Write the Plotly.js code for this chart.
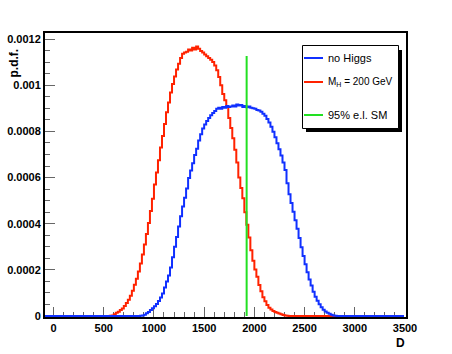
<!DOCTYPE html>
<html>
<head>
<meta charset="utf-8">
<script src="https://cdn.plot.ly/plotly-3.0.1.min.js"></script>
<style>
  body { margin: 0; background: #fff; }
  #pdf { width: 452px; height: 354px; }
</style>
</head>
<body>
<div id="pdf"></div>
<script>
// histogram binning (D)
var binWidth = 20;
var histLow = -100;
var histHigh = 3500;
var pdfScale = 1e-4;

// M_H = 200 GeV, first non-empty bin starts at 560
var redStart = 560;
var redPdf = [
  0.01, 0.03, 0.08, 0.14, 0.19, 0.26, 0.33, 0.44, 0.57, 0.71,
  0.88, 1.10, 1.36, 1.62, 1.93, 2.28, 2.67, 3.10, 3.55, 4.03,
  4.55, 5.08, 5.70, 6.22, 6.75, 7.30, 7.80, 8.32, 8.83, 9.25,
  9.68, 10.05, 10.38, 10.68, 10.93, 11.18, 11.36, 11.42, 11.45, 11.55,
  11.50, 11.62, 11.55, 11.68, 11.58, 11.48, 11.42, 11.33, 11.25, 11.18,
  11.10, 11.00, 10.85, 10.65, 10.35, 10.00, 9.62, 9.35, 9.05, 8.58,
  8.15, 7.70, 7.20, 6.65, 6.00, 5.55, 5.10, 4.50, 3.95, 3.40,
  2.85, 2.40, 2.02, 1.70, 1.35, 1.08, 0.82, 0.64, 0.48, 0.36,
  0.28, 0.22, 0.18, 0.14, 0.11, 0.08, 0.05, 0.03, 0.01
];

// no Higgs, first non-empty bin starts at 860
var blueStart = 860;
var bluePdf = [
  0.01, 0.02, 0.06, 0.12, 0.18, 0.26, 0.34, 0.43, 0.52, 0.65,
  0.80, 0.98, 1.24, 1.50, 1.76, 2.10, 2.55, 3.00, 3.42, 3.88,
  4.32, 4.75, 5.12, 5.52, 5.98, 6.30, 6.62, 6.98, 7.25, 7.60,
  7.88, 8.12, 8.30, 8.45, 8.58, 8.70, 8.80, 8.88, 8.98, 9.02,
  8.98, 9.05, 9.02, 9.10, 9.05, 9.08, 9.12, 9.08, 9.16, 9.12,
  9.14, 9.06, 9.10, 9.04, 9.08, 9.02, 9.00, 8.98, 8.93, 8.90,
  8.85, 8.76, 8.68, 8.53, 8.38, 8.20, 7.98, 7.75, 7.48, 7.22,
  6.95, 6.65, 6.33, 5.75, 5.28, 4.90, 4.52, 4.15, 3.78, 3.38,
  2.98, 2.60, 2.24, 1.90, 1.58, 1.32, 1.05, 0.84, 0.66, 0.51,
  0.38, 0.27, 0.20, 0.14, 0.10, 0.06, 0.03, 0.01
];

// 95% exclusion limit line
var elD = 1923;
var elTop = 0.001126;

var yTickVals = [0, 0.0002, 0.0004, 0.0006, 0.0008, 0.001, 0.0012];
var yTickText = ['0', '0.0002', '0.0004', '0.0006', '0.0008', '0.001', '0.0012'];
var xTickVals = [0, 500, 1000, 1500, 2000, 2500, 3000, 3500];
var xTickText = ['0', '500', '1000', '1500', '2000', '2500', '3000', '3500'];

var legendNames = ['no Higgs', 'M<sub>H</sub> = 200 GeV', '95% e.l. SM'];

// fill the whole histogram range, empty bins are zero
function toHist(start, vals) {
  var xs = [], ys = [];
  for (var lo = histLow; lo < histHigh; lo += binWidth) {
    var i = Math.round((lo - start) / binWidth);
    xs.push(lo + binWidth / 2);
    ys.push(i >= 0 && i < vals.length ? vals[i] * pdfScale : 0);
  }
  return { x: xs, y: ys };
}

var redH = toHist(redStart, redPdf);
var blueH = toHist(blueStart, bluePdf);

var colors = { blue: '#1030ff', red: '#ff2200', green: '#22e022' };

var red = {
  x: redH.x, y: redH.y,
  type: 'scatter', mode: 'lines',
  line: { color: colors.red, width: 2, shape: 'hvh' },
  name: legendNames[1], showlegend: false, hoverinfo: 'skip'
};
var blue = {
  x: blueH.x, y: blueH.y,
  type: 'scatter', mode: 'lines',
  line: { color: colors.blue, width: 2, shape: 'hvh' },
  name: legendNames[0], showlegend: false, hoverinfo: 'skip'
};
var green = {
  x: [elD, elD], y: [0, elTop],
  type: 'scatter', mode: 'lines',
  line: { color: colors.green, width: 2 },
  name: legendNames[2], showlegend: false, hoverinfo: 'skip'
};

// plot frame in pixels: left 45, top 33, right 406, bottom 317
var L = 45, T = 33, W = 361, H = 284;
function px(v) { return (v - L) / W; }
function py(v) { return (T + H - v) / H; }

var fam = 'Liberation Sans, Arial, sans-serif';
var tickFont = { family: fam, size: 11, color: '#000', weight: 'bold' };

var legRows = [58, 82, 115];
var legSizes = [11, 10, 11];
var legColors = [colors.blue, colors.red, colors.green];

var shapes = [
  { type: 'rect', xref: 'paper', yref: 'paper', x0: px(306), x1: px(402), y0: py(132), y1: py(50),
    fillcolor: '#000', line: { width: 0 } },
  { type: 'rect', xref: 'paper', yref: 'paper', x0: px(302.5), x1: px(398.5), y0: py(128.5), y1: py(45.5),
    fillcolor: '#fff', line: { color: '#000', width: 1 } }
];
var annotations = [
  { text: 'p.d.f.', xref: 'paper', yref: 'paper', x: px(4), y: py(47), xanchor: 'left', yanchor: 'top',
    textangle: -90, showarrow: false, font: { family: fam, size: 12, color: '#000', weight: 'bold' } },
  { text: 'D', xref: 'paper', yref: 'paper', x: px(407), y: py(334), xanchor: 'right', yanchor: 'top',
    showarrow: false, font: { family: fam, size: 12, color: '#000', weight: 'bold' } }
];
legRows.forEach(function (yy, i) {
  shapes.push({ type: 'line', xref: 'paper', yref: 'paper', x0: px(304), x1: px(323), y0: py(yy), y1: py(yy),
    line: { color: legColors[i], width: 2 } });
  annotations.push({ text: legendNames[i], xref: 'paper', yref: 'paper', x: px(326), y: py(yy),
    xanchor: 'left', yanchor: 'middle', showarrow: false,
    font: { family: fam, size: legSizes[i], color: '#000' } });
});

var layout = {
  width: 452, height: 354,
  margin: { l: L, r: 452 - L - W, t: T, b: 354 - T - H, pad: 0 },
  paper_bgcolor: '#fff', plot_bgcolor: '#fff',
  showlegend: false,
  xaxis: {
    range: [-85, 3510],
    showgrid: false, zeroline: false,
    showline: true, linecolor: '#000', linewidth: 2, mirror: true,
    ticks: 'inside', ticklen: 10, tickcolor: '#666', tickwidth: 1,
    tickvals: xTickVals, ticktext: xTickText, tickfont: tickFont,
    minor: { dtick: 100, ticks: 'inside', ticklen: 5, tickcolor: '#666', tickwidth: 1 },
    layer: 'below traces'
  },
  yaxis: {
    range: [-0.000004, 0.001226],
    showgrid: false, zeroline: false,
    showline: true, linecolor: '#000', linewidth: 2, mirror: true,
    ticks: 'inside', ticklen: 10, tickcolor: '#666', tickwidth: 1,
    tickvals: yTickVals, ticktext: yTickText, tickfont: tickFont,
    minor: { dtick: 0.00005, ticks: 'inside', ticklen: 5, tickcolor: '#666', tickwidth: 1 },
    layer: 'below traces'
  },
  shapes: shapes,
  annotations: annotations
};

Plotly.newPlot('pdf', [red, blue, green], layout, { staticPlot: true });
</script>
</body>
</html>
